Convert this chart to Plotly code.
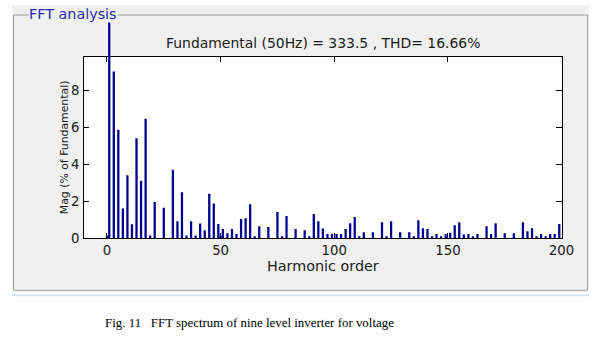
import plotly.graph_objects as go

# ---- data ----
harmonic_order = [0, 1, 3, 5, 7, 9, 11, 13, 15, 17, 19, 21, 25, 29, 31, 33, 35, 37, 39, 41,
                  43, 45, 47, 49, 50, 51, 53, 55, 57, 59, 61, 63, 65, 67, 71, 75, 77, 79, 83, 87,
                  89, 91, 93, 95, 97, 99, 101, 103, 105, 107, 109, 111, 113, 117, 121, 123, 125, 129, 133, 135,
                  137, 139, 141, 143, 145, 147, 149, 151, 153, 155, 157, 159, 161, 163, 167, 169, 171, 175, 179, 183,
                  185, 187, 189, 191, 193, 195, 197, 199]
magnitude = [0.15, 100.0, 9.0, 5.85, 1.6, 3.4, 0.75, 5.4, 3.1, 6.45, 0.15, 1.95, 1.65, 3.7, 0.92, 2.48, 0.15, 0.92, 0.15, 0.8,
             0.43, 2.4, 1.88, 0.76, 0.15, 0.49, 0.27, 0.49, 0.22, 1.03, 1.08, 1.84, 0.1, 0.65, 0.6, 1.41, 0.1, 1.2, 0.49, 0.43,
             0.1, 1.3, 0.92, 0.53, 0.22, 0.22, 0.22, 0.22, 0.49, 0.81, 1.14, 0.1, 0.32, 0.32, 0.86, 0.1, 0.92, 0.32, 0.32, 0.1,
             0.97, 0.54, 0.49, 0.1, 0.22, 0.1, 0.22, 0.3, 0.7, 0.86, 0.2, 0.22, 0.1, 0.22, 0.65, 0.22, 0.81, 0.27, 0.27, 0.86,
             0.38, 0.54, 0.1, 0.22, 0.1, 0.22, 0.22, 0.76]
fundamental_order = 1
x_ticks = [0, 50, 100, 150, 200]
y_ticks = [0, 2, 4, 6, 8]
title_text = "Fundamental (50Hz) = 333.5 , THD= 16.66%"
panel_label = "FFT analysis"
caption = "Fig. 11   FFT spectrum of nine level inverter for voltage"

W, H = 602, 340
S = 617 / 602  # compensation for the capture scaling observed
BAR = "#00008f"
FONT = "DejaVu Sans"


def px(x):
    return min(x * S, W) / W


def py(y):
    return 1 - min(y * S, H) / H


def fs(v):
    return v * S


harm_x = [h for h in harmonic_order if h != fundamental_order]
harm_y = [m for h, m in zip(harmonic_order, magnitude) if h != fundamental_order]
fund_y = [m for h, m in zip(harmonic_order, magnitude) if h == fundamental_order]

# main axes geometry (reference pixel positions)
x_dom = [px(84), px(560)]
y_dom = [py(238), py(56.5)]
y_top = 9.81
# second (hidden) y axis with the same scale, reaching higher, for the unclipped fundamental bar
y2_dom = [py(238), py(21)]
y2_top = y_top * (y2_dom[1] - y2_dom[0]) / (y_dom[1] - y_dom[0])

fig = go.Figure()
fig.add_trace(go.Bar(x=harm_x, y=harm_y, width=1.0, marker=dict(color=BAR, line=dict(width=0)),
                     xaxis="x", yaxis="y", showlegend=False))
fig.add_trace(go.Bar(x=[fundamental_order], y=fund_y, width=1.0, marker=dict(color=BAR, line=dict(width=0)),
                     xaxis="x", yaxis="y2", showlegend=False))

shapes = [
    dict(type="rect", xref="paper", yref="paper", x0=px(12), x1=px(593), y0=py(292), y1=py(5),
         fillcolor="#f0f0f0", line=dict(width=0), layer="below"),
    dict(type="rect", xref="paper", yref="paper", x0=px(13.5), x1=(W - 1.5) / W, y0=py(290), y1=py(15),
         fillcolor="rgba(0,0,0,0)", line=dict(color="#9a9a9a", width=1), layer="below"),
    dict(type="line", xref="paper", yref="paper", x0=px(12), x1=px(593), y0=py(295), y1=py(295),
         line=dict(color="#d6e4f2", width=2), layer="below"),
    dict(type="rect", xref="paper", yref="paper", x0=x_dom[0], x1=x_dom[1], y0=y_dom[0], y1=y_dom[1],
         fillcolor="white", line=dict(width=0), layer="below"),
]

annotations = [
    dict(text=panel_label, xref="paper", yref="paper", x=px(28), y=py(14), xanchor="left", yanchor="middle",
         showarrow=False, font=dict(family=FONT, size=fs(14), color="#2b2bb0"), bgcolor="#f0f0f0", borderpad=0),
    dict(text=title_text, xref="paper", yref="paper", x=px(322), y=py(43), xanchor="center", yanchor="middle",
         showarrow=False, font=dict(family=FONT, size=fs(13.6), color="#1a1a1a")),
    dict(text=caption, xref="paper", yref="paper", x=px(103), y=py(322), xanchor="left", yanchor="middle",
         showarrow=False, font=dict(family="Liberation Serif", size=fs(12.6), color="#000000")),
]

fig.update_layout(
    width=W, height=H, margin=dict(l=0, r=0, t=0, b=0),
    paper_bgcolor="white", plot_bgcolor="rgba(0,0,0,0)",
    barmode="overlay", showlegend=False,
    shapes=shapes, annotations=annotations,
    font=dict(family=FONT, size=fs(13), color="#1a1a1a"),
    xaxis=dict(domain=x_dom, range=[-10, 200], anchor="y", tickvals=x_ticks, ticks="inside", ticklen=fs(5),
               tickcolor="black", showline=True, linecolor="black", linewidth=1, mirror="ticks",
               showgrid=False, zeroline=False, tickfont=dict(family=FONT, size=fs(13)),
               title=dict(text="Harmonic order", standoff=fs(1), font=dict(family=FONT, size=fs(14)))),
    yaxis=dict(domain=y_dom, range=[0, y_top], anchor="x", tickvals=y_ticks, ticks="inside", ticklen=fs(5),
               tickcolor="black", showline=True, linecolor="black", linewidth=1, mirror="ticks",
               showgrid=False, zeroline=False, tickfont=dict(family=FONT, size=fs(13)), ticklabelstandoff=1,
               title=dict(text="Mag (% of Fundamental)", standoff=0, font=dict(family=FONT, size=fs(10.6)))),
    yaxis2=dict(domain=y2_dom, range=[0, y2_top], anchor="x", visible=False, showgrid=False, zeroline=False),
)

fig.write_html("out.html")
